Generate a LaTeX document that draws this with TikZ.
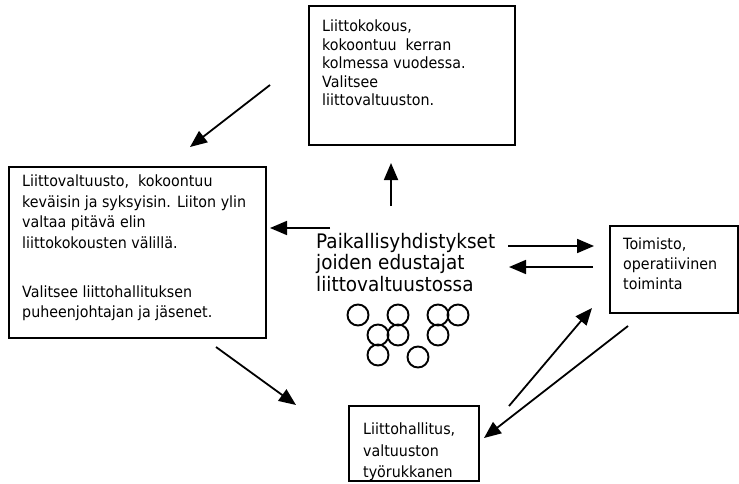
\documentclass[tikz,border=0pt]{standalone}
\usepackage{fontspec}
\setmainfont{DejaVu Sans}[FakeStretch=0.92]
\usetikzlibrary{arrows.meta}
\begin{document}
\begin{tikzpicture}[x=1pt,y=-1pt,
  box/.style={draw=black, line width=2pt, anchor=north west, inner sep=0pt, rectangle},
  txt/.style={anchor=north west, inner sep=0pt, align=left, font=\fontsize{15.5}{#1}\selectfont},
  big/.style={anchor=north west, inner sep=0pt, align=left, font=\fontsize{20}{21.5}\selectfont},
  arr/.style={-{Triangle[length=17pt,width=14pt]}, line width=1.8pt},
  ring/.style={draw=black, line width=1.9pt, circle, minimum size=21pt, inner sep=0pt}]
\useasboundingbox (0,0) rectangle (739,484);

% boxes
\node[box, minimum width=206pt, minimum height=139pt] (kokous) at (308,5) {};
\node[box, minimum width=257pt, minimum height=171pt] (valtuusto) at (8,166) {};
\node[box, minimum width=128pt, minimum height=87pt] (toimisto) at (609,225) {};

% texts
\node[txt=18.4] (kokoustxt) at (322,20) {Liittokokous,\\kokoontuu~ kerran\\kolmessa vuodessa.\\Valitsee\\liittovaltuuston.};
\node[txt=20.4] (valtuustotxt) at (22,175) {Liittovaltuusto,~ kokoontuu\\keväisin ja syksyisin. Liiton ylin\\valtaa pitävä elin\\liittokokousten välillä.\\[29pt]Valitsee liittohallituksen\\puheenjohtajan ja jäsenet.};
\node[txt=20] (toimistotxt) at (623,238) {Toimisto,\\operatiivinen\\toiminta};
\begin{scope}
\clip (348,405) rectangle (478,480);
\node[txt=21.5] (hallitustxt) at (363,423) {Liittohallitus,\\valtuuston\\työrukkanen};
\end{scope}
\node[box, minimum width=130pt, minimum height=75pt] (hallitus) at (348,405) {};
\node[big] (paik) at (316,233) {Paikallisyhdistykset\\joiden edustajat\\liittovaltuustossa};

% circles
\foreach \n/\cx/\cy in {1/358/315, 2/398/315, 3/438/315, 4/458/315, 5/378/335, 6/398/335, 7/438/335, 8/378/355, 9/418/357}
  \node[ring] (c\n) at (\cx,\cy) {};

% arrow end points
\coordinate (a1s) at (270,85);   \coordinate (a1e) at (190,147);
\coordinate (a2s) at (391,206);  \coordinate (a2e) at (391,163);
\coordinate (a3s) at (330,228);  \coordinate (a3e) at (270,228);
\coordinate (a4s) at (508,246);  \coordinate (a4e) at (594,246);
\coordinate (a5s) at (593,267);  \coordinate (a5e) at (509,267);
\coordinate (a6s) at (509,406);  \coordinate (a6e) at (592,308);
\coordinate (a7s) at (628,326);  \coordinate (a7e) at (484,438);
\coordinate (a8s) at (216,347);  \coordinate (a8e) at (296,405);

\foreach \i in {1,...,8}
  \draw[arr] (a\i s) -- (a\i e);
\end{tikzpicture}
\end{document}
